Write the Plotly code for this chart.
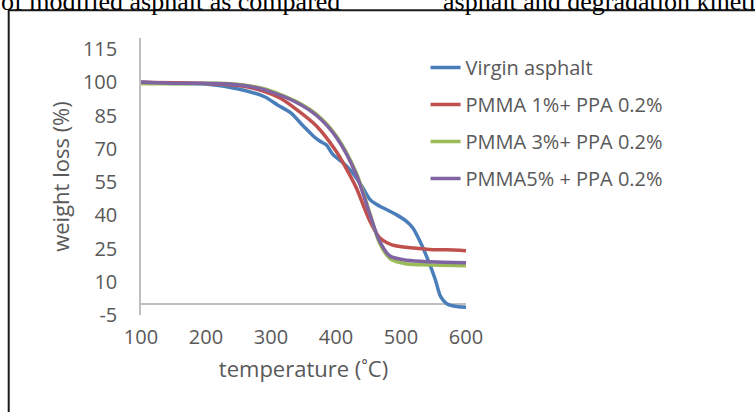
import plotly.graph_objects as go

# ---- data ----
series_names = ["Virgin asphalt", "PMMA 1%+ PPA 0.2%", "PMMA 3%+ PPA 0.2%", "PMMA5% + PPA 0.2%"]
series_colors = ["#4a7ebb", "#c0504d", "#9bbb59", "#8064a2"]

temp_virgin = [100, 150, 200, 250, 290, 310, 330, 350, 365, 375, 385, 395, 410, 425, 440, 452, 462, 472,
               492, 508, 518, 529, 542, 553, 561, 571, 586, 600]
wl_virgin = [100, 99.5, 99.2, 97.0, 93.5, 89.8, 86.3, 80.2, 75.8, 73.5, 71.8, 67.5, 63.9, 59.4, 53.0, 47.2, 45.0, 43.4,
             40.4, 37.4, 34.4, 28.4, 19.5, 10.8, 3.3, 0.0, -1.2, -1.5]

temp_pmma1 = [100, 200, 250, 288, 313, 339, 370, 400, 415, 431, 442, 452, 467, 480, 493, 520, 544, 570, 600]
wl_pmma1 = [100, 99.5, 98.5, 96.1, 93.0, 87.8, 80.3, 69.0, 61.5, 52.5, 44.5, 37.4, 29.9, 27.4, 26.1, 25.2, 24.6, 24.4, 24.0]

temp_pmma3 = [100, 150, 237, 288, 340, 371, 401, 431, 452, 467, 483, 509, 545, 600]
wl_pmma3 = [99.3, 99.3, 99.4, 97.2, 91.2, 85.3, 75.6, 59.3, 41.0, 27.5, 20.5, 18.0, 17.6, 17.2]

temp_pmma5 = [100, 150, 237, 288, 340, 371, 401, 431, 452, 467, 483, 509, 545, 600]
wl_pmma5 = [100, 99.6, 99.2, 96.8, 90.8, 84.8, 75.0, 58.5, 40.4, 28.4, 21.6, 19.7, 19.0, 18.6]

x_ticks = [100, 200, 300, 400, 500, 600]
y_ticks = [-5, 10, 25, 40, 55, 70, 85, 100, 115]
y_tick_labels = ["-5", "10", "25", "40", "55", "70", "85", "100", "115"]

x_title = "temperature (˚C)"
y_title = "weight loss (%)"
header_left = "of modified asphalt as compared"
header_right = "asphalt and degradation kinetics"

# ---- figure ----
W, H = 755, 412
L, R, T, B = 141, 288.5, 38, 97
pw = W - L - R
ph = H - T - B

def px_x(p):
    return (p - L) / pw

def px_y(p):
    return (H - B - p) / ph

fig = go.Figure()
all_x = [temp_virgin, temp_pmma1, temp_pmma3, temp_pmma5]
all_y = [wl_virgin, wl_pmma1, wl_pmma3, wl_pmma5]
for i in range(4):
    fig.add_trace(go.Scatter(
        x=all_x[i], y=all_y[i], mode="lines", name=series_names[i],
        line=dict(color=series_colors[i], width=3.5, shape="spline", smoothing=0.8),
        legendgroup=f"g{i}", legendrank=i + 1,
    ))

font_main = "Open Sans"
gray = "#595959"

fig.update_layout(
    width=W, height=H,
    margin=dict(l=L, r=R, t=T, b=B, pad=0),
    paper_bgcolor="white", plot_bgcolor="white",
    font=dict(family=font_main, color=gray, size=20),
    showlegend=True,
    legend=dict(
        x=px_x(426), y=px_y(48), xanchor="left", yanchor="top",
        font=dict(family=font_main, size=20, color=gray),
        bgcolor="rgba(0,0,0,0)", borderwidth=0, tracegroupgap=8,
        traceorder="grouped",
    ),
    xaxis=dict(
        range=[100, 600], tickvals=x_ticks, showgrid=False, zeroline=False,
        showline=False, ticks="", ticklabelstandoff=8,
        tickfont=dict(size=20, color=gray, family=font_main),
        title=dict(text=x_title, font=dict(size=22, color=gray, family=font_main), standoff=12),
    ),
    yaxis=dict(
        range=[-5, 120], tickvals=y_ticks, ticktext=y_tick_labels, showgrid=False,
        zeroline=True, zerolinecolor="#bfbfbf", zerolinewidth=1.5,
        showline=True, linecolor="#bfbfbf", linewidth=1.5, ticks="",
        ticklabelstandoff=18,
        tickfont=dict(size=20, color=gray, family=font_main),
        title=dict(text=y_title, font=dict(size=22, color=gray, family=font_main), standoff=7),
    ),
)

# page border of the original document figure
fig.add_shape(type="rect", xref="paper", yref="paper",
              x0=px_x(8.5), x1=px_x(W + 20), y0=px_y(H + 20), y1=px_y(10.2),
              line=dict(color="#1a1a1a", width=2), fillcolor="rgba(0,0,0,0)", layer="below")

# clipped header text from the surrounding document
for txt, xpix in [(header_left, -1), (header_right, 441)]:
    fig.add_annotation(text=txt, xref="paper", yref="paper", x=px_x(xpix), y=px_y(18),
                       xanchor="left", yanchor="bottom", showarrow=False,
                       font=dict(family="Liberation Serif", size=26, color="black"))

fig.write_html("out.html")
